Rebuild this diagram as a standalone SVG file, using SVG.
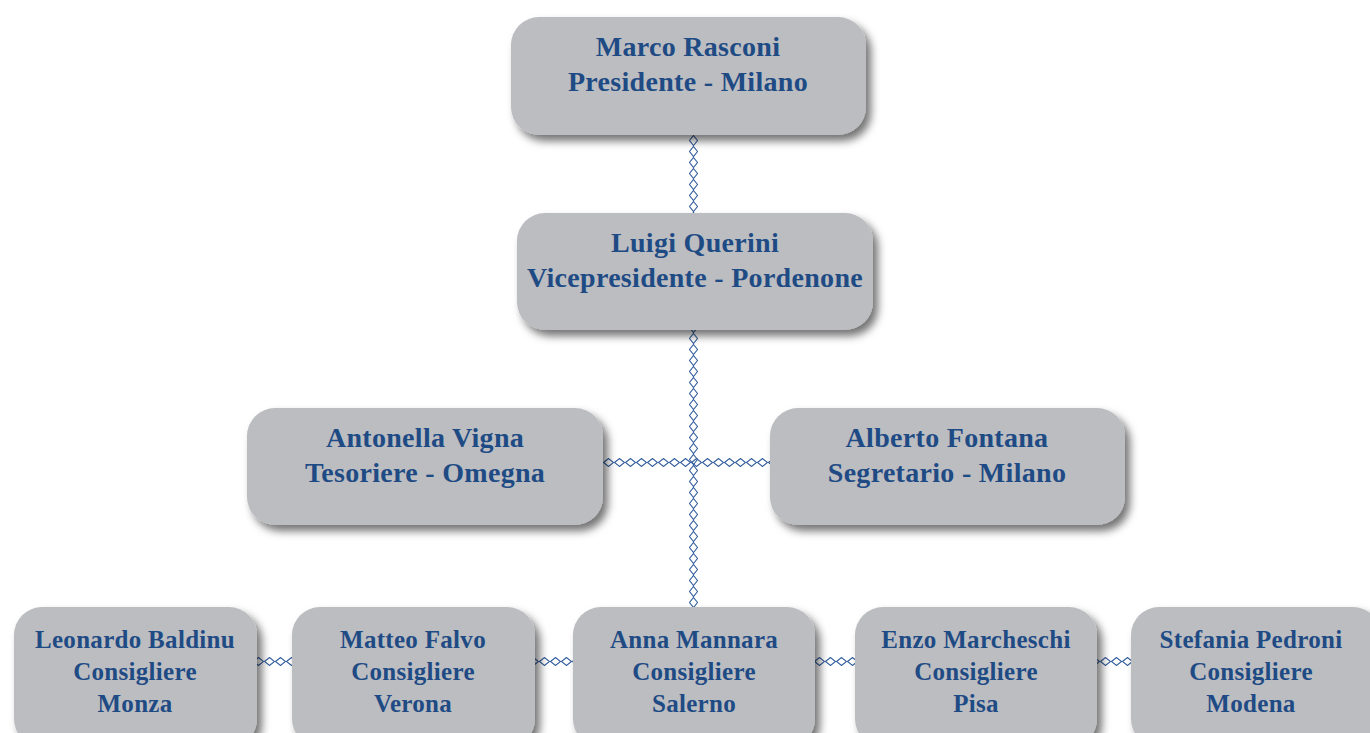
<svg xmlns="http://www.w3.org/2000/svg" width="1370" height="733" viewBox="0 0 1370 733">
<defs>
<filter id="sh" x="-10%" y="-10%" width="130%" height="140%">
<feDropShadow dx="5" dy="6" stdDeviation="4" flood-color="#000" flood-opacity="0.55"/>
</filter>
<pattern id="chainV" x="689" y="135" width="9" height="11" patternUnits="userSpaceOnUse">
<path d="M4.5 0.5 L8.5 5.5 L4.5 10.5 L0.5 5.5 Z" fill="none" stroke="#2f5b9b" stroke-width="1.1"/>
</pattern>
<pattern id="chainH" x="603" y="458" width="11" height="9" patternUnits="userSpaceOnUse">
<path d="M0.5 4.5 L5.5 0.5 L10.5 4.5 L5.5 8.5 Z" fill="none" stroke="#2f5b9b" stroke-width="1.1"/>
</pattern>
<pattern id="chainH2" x="0" y="657" width="11" height="9" patternUnits="userSpaceOnUse">
<path d="M0.5 4.5 L5.5 0.5 L10.5 4.5 L5.5 8.5 Z" fill="none" stroke="#2f5b9b" stroke-width="1.1"/>
</pattern>
</defs>
<style>
.box{fill:#bcbdc1;filter:url(#sh);}
.t{font-family:"Liberation Serif",serif;font-weight:bold;fill:#1f4b85;text-anchor:middle;letter-spacing:0.3px;}
.big{font-size:28px;}
.sm{font-size:25px;}
</style>
<rect width="1370" height="733" fill="#fff"/>
<g id="connectors">
<rect x="689" y="135" width="9" height="78" fill="url(#chainV)"/>
<rect x="689" y="330" width="9" height="277" fill="url(#chainV)"/>
<rect x="603" y="458" width="167" height="9" fill="url(#chainH)"/>
<rect x="256" y="657" width="36" height="9" fill="url(#chainH2)"/>
<rect x="535" y="657" width="38" height="9" fill="url(#chainH2)"/>
<rect x="815" y="657" width="40" height="9" fill="url(#chainH2)"/>
<rect x="1097" y="657" width="34" height="9" fill="url(#chainH2)"/>
</g>
<g id="marco"><rect class="box" x="511" y="17" width="355" height="118" rx="28"/>
<text class="t big" x="688" y="56">Marco Rasconi</text><text class="t big" x="688" y="91">Presidente - Milano</text></g>
<g id="luigi"><rect class="box" x="517" y="213" width="356" height="117" rx="28"/>
<text class="t big" x="695" y="252">Luigi Querini</text><text class="t big" x="695" y="287">Vicepresidente - Pordenone</text></g>
<g id="antonella"><rect class="box" x="247" y="408" width="356" height="117" rx="28"/>
<text class="t big" x="425" y="447">Antonella Vigna</text><text class="t big" x="425" y="482">Tesoriere - Omegna</text></g>
<g id="alberto"><rect class="box" x="770" y="408" width="355" height="117" rx="28"/>
<text class="t big" x="947" y="447">Alberto Fontana</text><text class="t big" x="947" y="482">Segretario - Milano</text></g>
<g id="leonardo"><rect class="box" x="14" y="607" width="243" height="140" rx="28"/>
<text class="t sm" x="135" y="648">Leonardo Baldinu</text><text class="t sm" x="135" y="680">Consigliere</text><text class="t sm" x="135" y="712">Monza</text></g>
<g id="matteo"><rect class="box" x="292" y="607" width="243" height="140" rx="28"/>
<text class="t sm" x="413" y="648">Matteo Falvo</text><text class="t sm" x="413" y="680">Consigliere</text><text class="t sm" x="413" y="712">Verona</text></g>
<g id="anna"><rect class="box" x="573" y="607" width="242" height="140" rx="28"/>
<text class="t sm" x="694" y="648">Anna Mannara</text><text class="t sm" x="694" y="680">Consigliere</text><text class="t sm" x="694" y="712">Salerno</text></g>
<g id="enzo"><rect class="box" x="855" y="607" width="242" height="140" rx="28"/>
<text class="t sm" x="976" y="648">Enzo Marcheschi</text><text class="t sm" x="976" y="680">Consigliere</text><text class="t sm" x="976" y="712">Pisa</text></g>
<g id="stefania"><rect class="box" x="1131" y="607" width="250" height="140" rx="28"/>
<text class="t sm" x="1251" y="648">Stefania Pedroni</text><text class="t sm" x="1251" y="680">Consigliere</text><text class="t sm" x="1251" y="712">Modena</text></g>
</svg>
